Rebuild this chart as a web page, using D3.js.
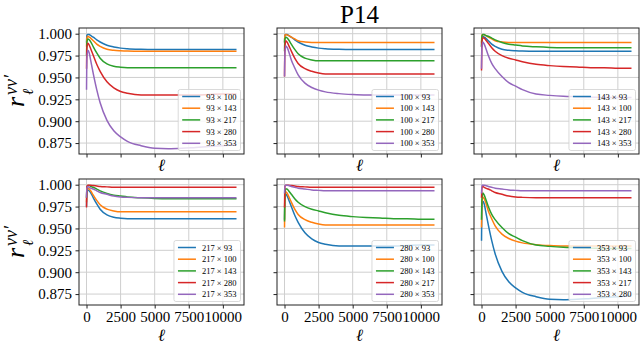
<!DOCTYPE html>
<html lang="en">
<head>
   <meta charset="UTF-8">
   <title>P14</title>
   <script src="https://cdn.jsdelivr.net/npm/d3@7"></script>
   <style>
      body { margin: 0; background: #fff; }
      svg text { font-family: "Liberation Serif", "DejaVu Serif", serif; fill: #000; }
   </style>
</head>
<body>
   <svg width="644" height="350"></svg>
   <script>
       // multipole sample points
       const ells = [2, 30, 100, 200, 300, 500, 750, 1000, 1500, 2000, 2500, 3000, 4000, 5000, 6000, 7000, 8000, 9000, 10000, 11000];
       const freqs = [93, 100, 143, 217, 280, 353];

       // correlation ratio per frequency pair (symmetric)
       const r_93_100  = [0.990, 0.998, 0.999, 0.999, 0.998, 0.996, 0.993, 0.9905, 0.9868, 0.9848, 0.9835, 0.9828, 0.9822, 0.982, 0.982, 0.982, 0.982, 0.982, 0.982, 0.982];
       const r_93_143  = [0.985, 0.995, 0.997, 0.996, 0.995, 0.992, 0.988, 0.9855, 0.9822, 0.981, 0.9805, 0.9802, 0.980, 0.980, 0.980, 0.980, 0.980, 0.980, 0.980, 0.980];
       const r_93_217  = [0.975, 0.990, 0.994, 0.993, 0.991, 0.985, 0.978, 0.972, 0.9655, 0.9627, 0.9617, 0.9612, 0.961, 0.961, 0.961, 0.961, 0.961, 0.961, 0.961, 0.961];
       const r_93_280  = [0.960, 0.984, 0.989, 0.987, 0.983, 0.975, 0.965, 0.957, 0.945, 0.938, 0.934, 0.932, 0.930, 0.930, 0.930, 0.930, 0.930, 0.9305, 0.931, 0.931];
       const r_93_353  = [0.936, 0.972, 0.981, 0.978, 0.970, 0.954, 0.936, 0.921, 0.901, 0.889, 0.882, 0.877, 0.872, 0.869, 0.8685, 0.869, 0.870, 0.871, 0.872, 0.873];
       const r_100_143 = [0.990, 0.998, 0.999, 0.9985, 0.998, 0.996, 0.994, 0.992, 0.9905, 0.990, 0.990, 0.990, 0.990, 0.990, 0.990, 0.990, 0.990, 0.990, 0.990, 0.990];
       const r_100_217 = [0.980, 0.994, 0.996, 0.995, 0.993, 0.988, 0.982, 0.977, 0.972, 0.970, 0.969, 0.969, 0.969, 0.969, 0.969, 0.969, 0.969, 0.969, 0.969, 0.969];
       const r_100_280 = [0.951, 0.985, 0.992, 0.990, 0.987, 0.980, 0.972, 0.966, 0.960, 0.957, 0.955, 0.954, 0.954, 0.954, 0.954, 0.954, 0.954, 0.954, 0.954, 0.954];
       const r_100_353 = [0.951, 0.978, 0.986, 0.984, 0.980, 0.970, 0.961, 0.953, 0.9435, 0.9385, 0.9355, 0.9335, 0.9315, 0.9305, 0.930, 0.930, 0.930, 0.930, 0.930, 0.930];
       const r_143_217 = [0.985, 0.997, 0.999, 0.999, 0.998, 0.997, 0.995, 0.993, 0.990, 0.988, 0.987, 0.986, 0.985, 0.9843, 0.984, 0.984, 0.984, 0.984, 0.984, 0.984];
       const r_143_280 = [0.958, 0.990, 0.9955, 0.995, 0.993, 0.989, 0.984, 0.980, 0.975, 0.972, 0.970, 0.968, 0.965, 0.9635, 0.9625, 0.962, 0.961, 0.961, 0.9605, 0.9604];
       const r_143_353 = [0.960, 0.983, 0.9905, 0.988, 0.984, 0.975, 0.966, 0.960, 0.951, 0.944, 0.940, 0.936, 0.931, 0.9295, 0.9285, 0.928, 0.9275, 0.927, 0.927, 0.927];
       const r_217_280 = [0.974, 0.998, 0.9995, 0.9995, 0.9993, 0.999, 0.9985, 0.998, 0.9975, 0.997, 0.997, 0.997, 0.997, 0.997, 0.997, 0.997, 0.997, 0.997, 0.997, 0.997];
       const r_217_353 = [0.985, 0.996, 0.998, 0.997, 0.996, 0.995, 0.993, 0.991, 0.989, 0.987, 0.986, 0.9855, 0.985, 0.985, 0.985, 0.985, 0.985, 0.985, 0.985, 0.985];
       const r_280_353 = [0.990, 0.9995, 0.9995, 0.9993, 0.999, 0.998, 0.997, 0.996, 0.995, 0.994, 0.9935, 0.993, 0.993, 0.993, 0.993, 0.993, 0.993, 0.993, 0.993, 0.993];

       const pairs = {
           '93-100': r_93_100, '93-143': r_93_143, '93-217': r_93_217, '93-280': r_93_280, '93-353': r_93_353,
           '100-143': r_100_143, '100-217': r_100_217, '100-280': r_100_280, '100-353': r_100_353,
           '143-217': r_143_217, '143-280': r_143_280, '143-353': r_143_353,
           '217-280': r_217_280, '217-353': r_217_353, '280-353': r_280_353
       };
       const getPair = (a, b) => pairs[a < b ? `${a}-${b}` : `${b}-${a}`];

       const yTicks = [0.875, 0.900, 0.925, 0.950, 0.975, 1.000];
       const xTicks = [0, 2500, 5000, 7500, 10000];
       const colors = ['#1f77b4', '#ff7f0e', '#2ca02c', '#d62728', '#9467bd'];

       const svg = d3.select('svg');
       const colX = [79, 277, 474], rowY = [28, 179];
       const pw = 165, ph = 126;

       const x = d3.scaleLinear().domain([-550, 11550]).range([0, pw]);
       const y = d3.scaleLinear().domain([0.8625, 1.0065]).range([ph, 0]);
       const line = d3.line().x(d => x(d[0])).y(d => y(d[1])).curve(d3.curveMonotoneX);

       freqs.forEach((f, i) => {
           const row = Math.floor(i / 3), col = i % 3;
           const g = svg.append('g').attr('transform', `translate(${colX[col]},${rowY[row]})`);

           // grid
           g.append('g').selectAll('line').data(xTicks).join('line')
               .attr('x1', d => x(d)).attr('x2', d => x(d)).attr('y1', 0).attr('y2', ph)
               .attr('stroke', '#cfcfcf').attr('stroke-width', 1);
           g.append('g').selectAll('line').data(yTicks).join('line')
               .attr('y1', d => y(d)).attr('y2', d => y(d)).attr('x1', 0).attr('x2', pw)
               .attr('stroke', '#cfcfcf').attr('stroke-width', 1);

           // curves
           const others = freqs.filter(o => o !== f);
           others.forEach((o, k) => {
               const vals = getPair(f, o);
               g.append('path')
                   .datum(ells.map((l, j) => [l, vals[j]]))
                   .attr('d', line)
                   .attr('fill', 'none')
                   .attr('stroke', colors[k])
                   .attr('stroke-width', 1.5);
           });

           // axes
           const ax = g.append('g').attr('transform', `translate(0,${ph})`)
               .call(d3.axisBottom(x).tickValues(xTicks).tickSize(3.5).tickPadding(3)
                   .tickFormat(row === 1 ? d3.format('d') : () => ''));
           const ay = g.append('g')
               .call(d3.axisLeft(y).tickValues(yTicks).tickSize(3.5).tickPadding(3.5)
                   .tickFormat(col === 0 ? d3.format('.3f') : () => ''));
           [ax, ay].forEach(a => {
               a.attr('font-family', null);
               a.select('.domain').remove();
               a.selectAll('line').attr('stroke', '#222');
               a.selectAll('text').attr('font-size', 15);
           });

           g.append('rect').attr('width', pw).attr('height', ph)
               .attr('fill', 'none').attr('stroke', '#222').attr('stroke-width', 1);

           // x label
           g.append('text').attr('x', pw / 2).attr('y', row === 0 ? 143 : 162)
               .attr('text-anchor', 'middle').attr('font-size', 17)
               .attr('font-style', 'italic').attr('font-family', '"DejaVu Serif", serif')
               .text('ℓ');

           // legend
           const lg = g.append('g');
           const box = lg.append('rect');
           const rowH = 11.7;
           let maxW = 0;
           others.forEach((o, k) => {
               const ry = 7 + k * rowH;
               lg.append('line').attr('x1', 4).attr('x2', 22).attr('y1', ry).attr('y2', ry)
                   .attr('stroke', colors[k]).attr('stroke-width', 1.5);
               const t = lg.append('text').attr('x', 28).attr('y', ry + 3)
                   .attr('font-size', 8.5).text(`${f} × ${o}`);
               maxW = Math.max(maxW, t.node().getComputedTextLength());
           });
           const lw = 28 + maxW + 4, lh = 61;
           box.attr('width', lw).attr('height', lh).attr('rx', 2)
               .attr('fill', 'rgba(255,255,255,0.8)').attr('stroke', '#d0d0d0').attr('stroke-width', 0.8);
           lg.attr('transform', `translate(${pw - 3.5 - lw},${ph - 3.5 - lh})`);

           // y label
           if (col === 0) {
               const yl = svg.append('g')
                   .attr('transform', `translate(24,${rowY[row] + ph / 2}) rotate(-90)`);
               yl.append('text').attr('x', -16).attr('y', 0).attr('font-size', 26)
                   .attr('font-style', 'italic').text('r');
               yl.append('text').attr('x', -4).attr('y', -7).attr('font-size', 18)
                   .attr('font-style', 'italic').text('νν′');
               yl.append('text').attr('x', -4).attr('y', 9).attr('font-size', 15)
                   .attr('font-style', 'italic').attr('font-family', '"DejaVu Serif", serif').text('ℓ');
           }
       });

       // title over middle panel
       svg.append('text').attr('x', colX[1] + pw / 2).attr('y', 23)
           .attr('text-anchor', 'middle').attr('font-size', 25).text('P14');
   </script>
</body>
</html>
